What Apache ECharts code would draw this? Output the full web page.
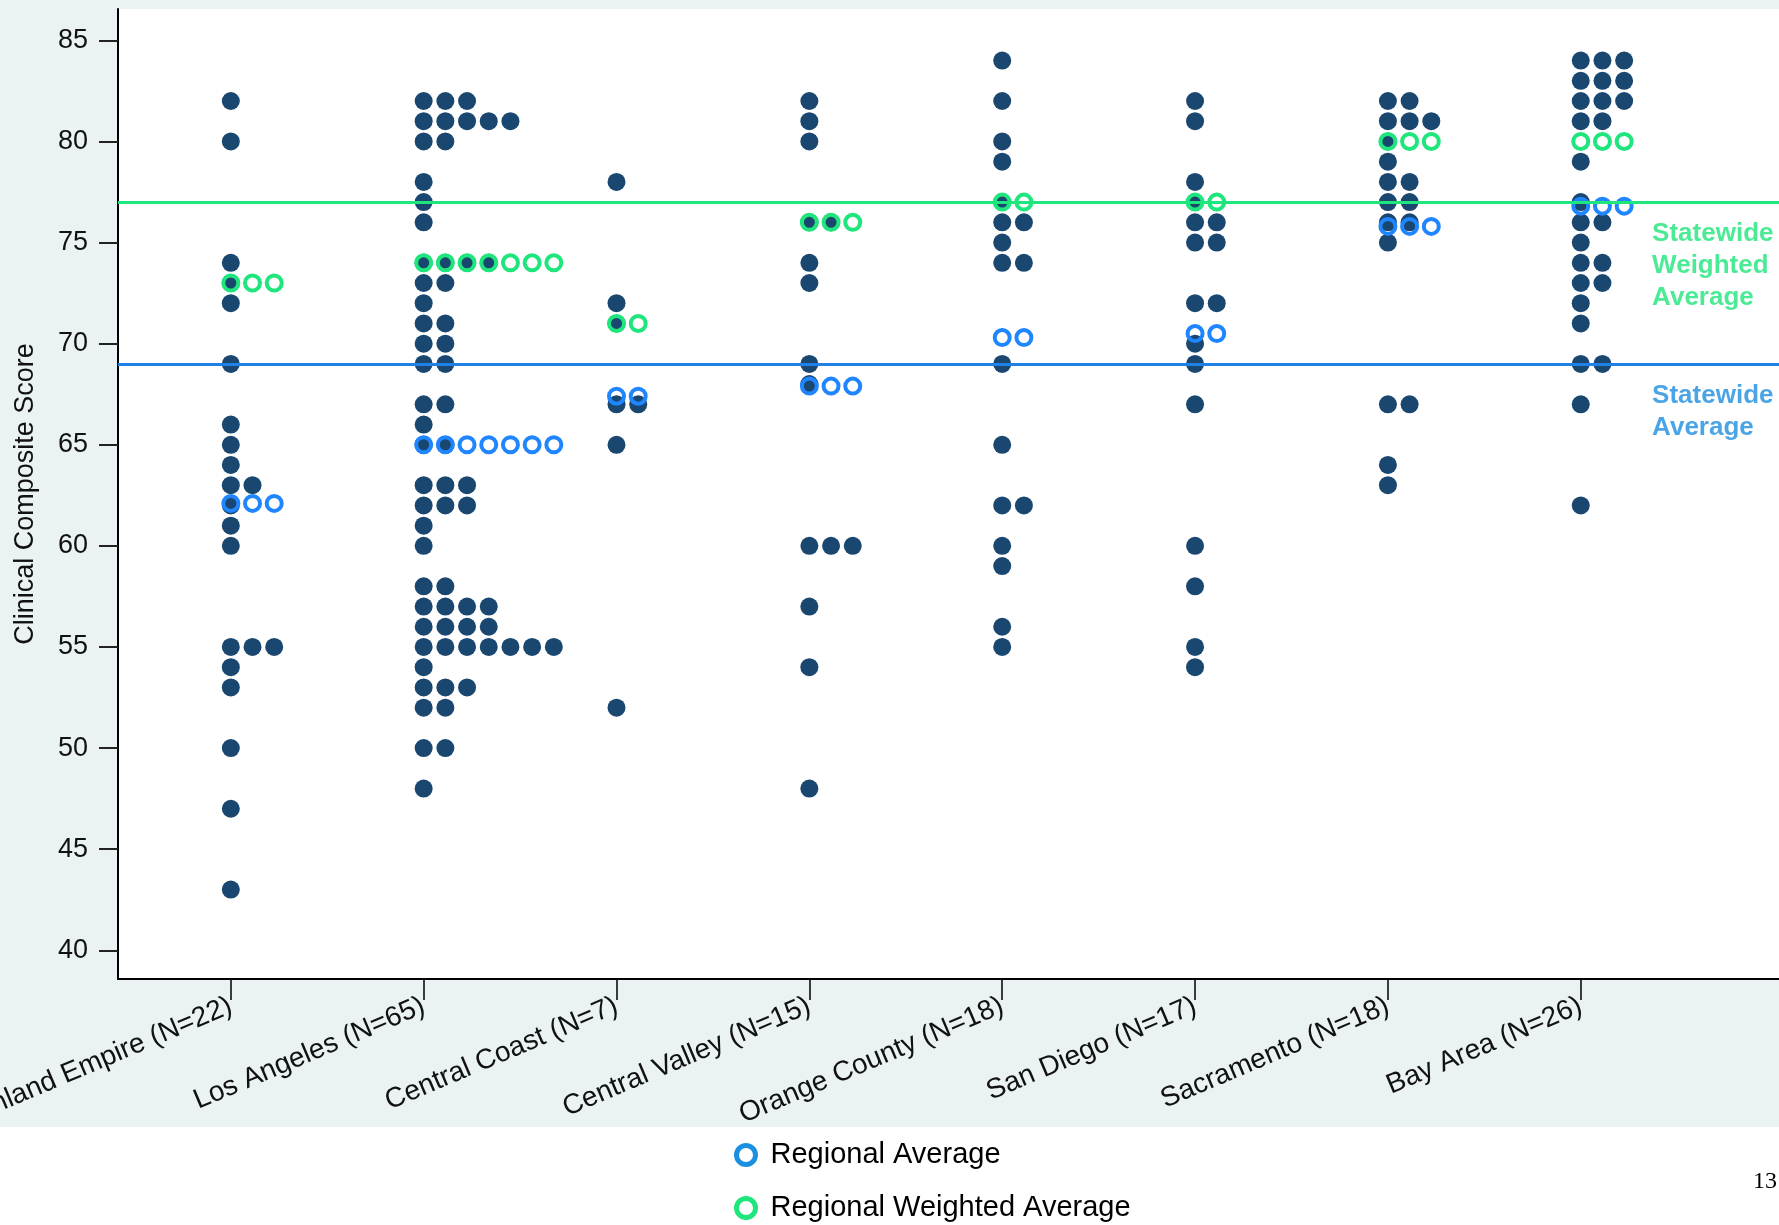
<!DOCTYPE html>
<html>
<head>
<meta charset="utf-8">
<title>Clinical Composite Score by Region</title>
<script src="https://cdn.jsdelivr.net/npm/echarts@6/dist/echarts.min.js"></script>
<style>
  html, body { margin: 0; padding: 0; background: #fff; }
  #chart {
    width: 1779px; height: 1225px;
    background: linear-gradient(to bottom, #eaf2f3 0, #eaf2f3 1127px, #fff 1127px);
  }
</style>
</head>
<body>
<div id="chart"></div>
<script>
// Regions, left to right
const regionNames = ['Inland Empire', 'Los Angeles', 'Central Coast', 'Central Valley',
  'Orange County', 'San Diego', 'Sacramento', 'Bay Area'];

// Clinical composite score of each organisation, per region
const inlandEmpire = [82, 80, 74, 73, 72, 69, 66, 65, 64, 63, 63, 62, 61, 60, 55, 55, 55, 54, 53, 50, 47, 43];
const losAngeles = [82, 82, 82, 81, 81, 81, 81, 81, 80, 80, 78, 77, 76, 74, 74, 74, 74, 73, 73, 72,
  71, 71, 70, 70, 69, 69, 67, 67, 66, 65, 65, 63, 63, 63, 62, 62, 62, 61, 60, 58, 58,
  57, 57, 57, 57, 56, 56, 56, 56, 55, 55, 55, 55, 55, 55, 55, 54, 53, 53, 53, 52, 52, 50, 50, 48];
const centralCoast = [78, 72, 71, 67, 67, 65, 52];
const centralValley = [82, 81, 80, 76, 76, 74, 73, 69, 68, 60, 60, 60, 57, 54, 48];
const orangeCounty = [84, 82, 80, 79, 77, 76, 76, 75, 74, 74, 69, 65, 62, 62, 60, 59, 56, 55];
const sanDiego = [82, 81, 78, 77, 76, 76, 75, 75, 72, 72, 70, 69, 67, 60, 58, 55, 54];
const sacramento = [82, 82, 81, 81, 81, 80, 79, 78, 78, 77, 77, 76, 76, 75, 67, 67, 64, 63];
const bayArea = [84, 84, 84, 83, 83, 83, 82, 82, 82, 81, 81, 79, 77, 76, 76, 75, 74, 74, 73, 73,
  72, 71, 69, 69, 67, 62];
const regionScores = [inlandEmpire, losAngeles, centralCoast, centralValley,
  orangeCounty, sanDiego, sacramento, bayArea];

// Regional averages and how many hollow markers mark each one
const regionalAverage = [62.1, 65.0, 67.4, 67.9, 70.3, 70.5, 75.8, 76.8];
const regionalWeightedAverage = [73.0, 74.0, 71.0, 76.0, 77.0, 77.0, 80.0, 80.0];
const averageMarkerCount = [3, 7, 2, 3, 2, 2, 3, 3];

// Statewide reference lines
const statewideAverage = 69;
const statewideWeightedAverage = 77;

// Y axis ticks
const yTicks = [40, 45, 50, 55, 60, 65, 70, 75, 80, 85];

// ---------------------------------------------------------------------------
const FONT = '"Liberation Sans", Arial, Helvetica, sans-serif';
const NAVY = '#1a476f';
const GREEN = '#1ee67c';
const BLUE_LINE = '#1f80e6';
const BLUE_RING = '#1f86ff';
const BLUE_TEXT = '#1e8de0';
const STEP = 0.1125;        // horizontal gap between stacked dots (category units)
const NOTE_X = 7.37;        // where the statewide notes start (category units)

const categoryIdx = regionNames.map((_, i) => i);
const xLabels = regionNames.map((n, i) => n + ' (N=' + regionScores[i].length + ')');

// Dots with the same score stack sideways, to the right of the category
function stackDots(scores, i) {
  const seen = {};
  return scores.map(v => {
    const k = seen[v] || 0;
    seen[v] = k + 1;
    return [i + k * STEP, v];
  });
}
function averageRow(values) {
  const out = [];
  values.forEach((v, i) => {
    for (let k = 0; k < averageMarkerCount[i]; k++) out.push([i + k * STEP, v]);
  });
  return out;
}

const dotData = [];
regionScores.forEach((s, i) => stackDots(s, i).forEach(p => dotData.push(p)));

const chart = echarts.init(document.getElementById('chart'), null, { renderer: 'canvas' });

chart.setOption({
  animation: false,
  backgroundColor: 'transparent',
  textStyle: { fontFamily: FONT },
  graphic: [{
    type: 'text', left: 1753, top: 1170, silent: true,
    style: { text: '13', font: '24px "Liberation Serif", "Times New Roman", serif', fill: '#000' }
  }],
  grid: {
    left: 118, right: 0, top: 9, bottom: 246, show: true, backgroundColor: '#fff', borderWidth: 0,
    containLabel: false, outerBoundsMode: 'none'
  },
  xAxis: {
    type: 'value', min: -0.585, max: 8.028,
    axisLine: { show: true, onZero: false, lineStyle: { color: '#000', width: 2 } },
    axisTick: { show: true, customValues: categoryIdx, length: 21, lineStyle: { color: '#000', width: 1.5 } },
    axisLabel: {
      customValues: categoryIdx, formatter: v => xLabels[Math.round(v)] || '',
      rotate: 23, margin: 26, fontSize: 28, color: '#111', fontFamily: FONT, hideOverlap: false
    },
    splitLine: { show: false }
  },
  yAxis: {
    type: 'value', min: 38.58, max: 86.55,
    name: 'Clinical Composite Score', nameLocation: 'middle', nameGap: 79,
    nameTextStyle: { fontSize: 27, color: '#111', fontFamily: FONT },
    axisLine: { show: true, onZero: false, lineStyle: { color: '#000', width: 2 } },
    axisTick: { show: true, customValues: yTicks, length: 19, lineStyle: { color: '#222', width: 2 } },
    axisLabel: { customValues: yTicks, margin: 30, fontSize: 27, color: '#111', fontFamily: FONT },
    splitLine: { show: false }
  },
  legend: {
    orient: 'vertical', left: 734, top: 1140, padding: 0,
    itemWidth: 19, itemHeight: 19, itemGap: 23, selectedMode: false,
    textStyle: { fontSize: 29, lineHeight: 30, color: '#000', fontFamily: FONT, padding: [0, 0, 0, 10] },
    data: [
      { name: 'Regional Average', icon: 'circle',
        itemStyle: { color: 'rgba(0,0,0,0)', borderColor: '#1d8fe0', borderWidth: 5, opacity: 1 } },
      { name: 'Regional Weighted Average', icon: 'circle',
        itemStyle: { color: 'rgba(0,0,0,0)', borderColor: GREEN, borderWidth: 5, opacity: 1 } }
    ]
  },
  series: [
    {
      name: 'Statewide', type: 'line', data: [], z: 1, silent: true,
      markLine: {
        symbol: 'none', silent: true, label: { show: false },
        data: [
          { yAxis: statewideWeightedAverage, lineStyle: { color: GREEN, width: 3, type: 'solid', opacity: 1 } },
          { yAxis: statewideAverage, lineStyle: { color: BLUE_LINE, width: 3, type: 'solid', opacity: 1 } }
        ]
      }
    },
    {
      name: 'Score', type: 'scatter', data: dotData, z: 2, silent: true,
      symbol: 'circle', symbolSize: 18, itemStyle: { color: NAVY, opacity: 1 }
    },
    {
      name: 'Regional Average', type: 'scatter', data: averageRow(regionalAverage), z: 3, silent: true,
      symbol: 'circle', symbolSize: 15,
      itemStyle: { color: 'rgba(0,0,0,0)', borderColor: BLUE_RING, borderWidth: 4, opacity: 1 }
    },
    {
      name: 'Regional Weighted Average', type: 'scatter', data: averageRow(regionalWeightedAverage), z: 3, silent: true,
      symbol: 'circle', symbolSize: 15,
      itemStyle: { color: 'rgba(0,0,0,0)', borderColor: GREEN, borderWidth: 4, opacity: 1 }
    },
    {
      name: 'Statewide notes', type: 'scatter', z: 5, silent: true, symbolSize: 0,
      label: {
        show: true, position: [0, 16], align: 'left', verticalAlign: 'top',
        fontSize: 26, fontWeight: 'bold', lineHeight: 32, fontFamily: FONT,
        formatter: p => p.data.text
      },
      data: [
        { value: [NOTE_X, statewideWeightedAverage], text: 'Statewide\nWeighted\nAverage', label: { color: GREEN } },
        { value: [NOTE_X, statewideAverage], text: 'Statewide\nAverage', label: { color: BLUE_TEXT } }
      ]
    }
  ]
});
</script>
</body>
</html>
